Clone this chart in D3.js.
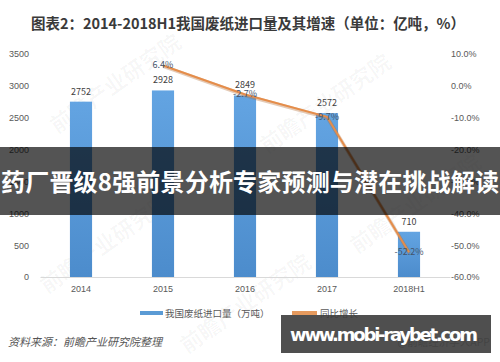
<!DOCTYPE html>
<html>
<head>
<meta charset="utf-8">
<script src="https://cdn.jsdelivr.net/npm/d3@7"></script>
<style>
  body { margin: 0; background: #fff; }
  svg { display: block; font-family: "Noto Sans CJK SC", "Noto Sans", sans-serif; }
</style>
</head>
<body>
<svg id="chart" width="500" height="362"></svg>
<script>
// data
const years = ['2014', '2015', '2016', '2017', '2018H1'];
const imports = [2752, 2928, 2849, 2572, 710];
const growthYears = ['2015', '2016', '2017', '2018H1'];
const growth = [6.4, -2.7, -9.7, -52.2];
const leftTicks = [0, 500, 1000, 1500, 2000, 2500, 3000, 3500];
const rightTicks = [10, 0, -10, -20, -30, -40, -50, -60];

const width = 500;
const height = 362;
const margin = { top: 54, right: 50, bottom: 85, left: 40 };

const svg = d3.select('#chart');

//Gradient for bars
const defs = svg.append('defs');
const grad = defs.append('linearGradient')
  .attr('id', 'barGrad')
  .attr('x1', 0).attr('y1', 0).attr('x2', 0).attr('y2', 1);
grad.append('stop').attr('offset', '0%').attr('stop-color', '#63a4e2');
grad.append('stop').attr('offset', '100%').attr('stop-color', '#4c8ccc');

//Title
svg.append('text')
  .attr('x', 248)
  .attr('y', 29)
  .attr('text-anchor', 'middle')
  .attr('font-size', 14.5)
  .attr('font-weight', 'bold')
  .attr('fill', '#3a3a3a')
  .attr('textLength', 434)
  .text('图表2：2014-2018H1我国废纸进口量及其增速（单位：亿吨，%）');

//Faint watermarks
const marks = [[120, 90], [330, 110], [110, 250], [420, 210], [250, 310]];
svg.append('g')
  .selectAll('text')
  .data(marks)
  .enter()
  .append('text')
  .attr('transform', d => `translate(${d[0]},${d[1]}) rotate(-35)`)
  .attr('text-anchor', 'middle')
  .attr('font-size', 22)
  .attr('font-weight', 'bold')
  .attr('fill', '#000')
  .attr('fill-opacity', 0.035)
  .text('前瞻产业研究院');

//Scales
const x = d3.scaleBand()
  .domain(years)
  .range([margin.left, width - margin.right])
  .paddingInner(0.73)
  .paddingOuter(0.365);

const y = d3.scaleLinear()
  .domain([0, 3500])
  .range([277, 54]);

const y2 = d3.scaleLinear()
  .domain([-60, 10])
  .range([277, 54]);

//Left axis
const leftAxis = svg.append('g')
  .attr('transform', `translate(${margin.left - 9},0)`)
  .call(d3.axisLeft(y).tickValues(leftTicks).tickSize(0).tickPadding(2).tickFormat(d3.format('d')));
leftAxis.select('.domain').remove();
leftAxis.selectAll('text')
  .attr('font-size', 9)
  .attr('fill', '#595959');

//Right axis
const rightAxis = svg.append('g')
  .attr('transform', `translate(${width - margin.right},0)`)
  .call(d3.axisRight(y2)
    .tickValues(rightTicks)
    .tickSize(0)
    .tickPadding(1)
    .tickFormat(d => d.toFixed(1) + '%'));
rightAxis.select('.domain').remove();
rightAxis.selectAll('text')
  .attr('font-size', 9)
  .attr('fill', '#595959');

//Bottom axis
const bottomAxis = svg.append('g')
  .attr('transform', `translate(0,${y(0)})`)
  .call(d3.axisBottom(x).tickSize(0).tickPadding(9));
bottomAxis.select('.domain').attr('stroke', '#d9d9d9');
bottomAxis.selectAll('text')
  .attr('font-size', 9)
  .attr('fill', '#595959');

//Bars
svg.append('g')
  .selectAll('rect')
  .data(years)
  .enter()
  .append('rect')
  .attr('x', d => x(d))
  .attr('width', x.bandwidth())
  .attr('y', (d, i) => y(imports[i]))
  .attr('height', (d, i) => y(0) - y(imports[i]))
  .attr('fill', 'url(#barGrad)');

svg.append('g')
  .selectAll('text')
  .data(years)
  .enter()
  .append('text')
  .attr('x', d => x(d) + x.bandwidth() / 2)
  .attr('y', (d, i) => y(imports[i]) - 7)
  .attr('text-anchor', 'middle')
  .attr('font-size', 9)
  .attr('fill', '#404040')
  .text((d, i) => imports[i]);

//Growth line
const cx = d => x(d) + x.bandwidth() / 2;
const line = d3.line()
  .x(d => cx(d))
  .y((d, i) => y2(growth[i]));

svg.append('path')
  .datum(growthYears)
  .attr('d', line)
  .attr('fill', 'none')
  .attr('stroke', '#b36a30')
  .attr('stroke-opacity', 0.35)
  .attr('stroke-width', 3.5)
  .attr('transform', 'translate(0.5,1)');

svg.append('path')
  .datum(growthYears)
  .attr('d', line)
  .attr('fill', 'none')
  .attr('stroke', '#e58d4a')
  .attr('stroke-width', 2);

svg.append('g')
  .selectAll('text')
  .data(growthYears)
  .enter()
  .append('text')
  .attr('x', d => cx(d))
  .attr('y', (d, i) => y2(growth[i]) + 3)
  .attr('text-anchor', 'middle')
  .attr('font-size', 9)
  .attr('fill', '#44546a')
  .text((d, i) => growth[i].toFixed(1) + '%');

//Legend
const legend = svg.append('g').attr('transform', 'translate(0,313)');
legend.append('rect')
  .attr('x', 140).attr('y', -2).attr('width', 23).attr('height', 4)
  .attr('fill', '#5b9bd5');
legend.append('text')
  .attr('x', 165).attr('y', 3.5)
  .attr('font-size', 9.5)
  .attr('fill', '#595959')
  .text('我国废纸进口量（万吨）');
legend.append('rect')
  .attr('x', 292).attr('y', -2).attr('width', 25).attr('height', 4)
  .attr('fill', '#e59a5e');
legend.append('text')
  .attr('x', 320).attr('y', 3.5)
  .attr('font-size', 9.5)
  .attr('fill', '#595959')
  .text('同比增长');

//Source
svg.append('text')
  .attr('x', 8)
  .attr('y', 346)
  .attr('font-size', 11)
  .attr('font-style', 'italic')
  .attr('fill', '#555')
  .text('资料来源：前瞻产业研究院整理');

svg.append('text')
  .attr('x', 490)
  .attr('y', 346)
  .attr('text-anchor', 'end')
  .attr('font-size', 10.5)
  .attr('fill', '#888')
  .text('@前瞻经济学人APP');

//Overlay banners
svg.append('rect')
  .attr('x', 0).attr('y', 147).attr('width', width).attr('height', 68)
  .attr('fill', '#000').attr('fill-opacity', 0.67);
svg.append('text')
  .attr('x', width / 2)
  .attr('y', 191)
  .attr('text-anchor', 'middle')
  .attr('font-size', 24)
  .attr('font-weight', 'bold')
  .attr('fill', '#fff')
  .attr('textLength', 498)
  .text('药厂晋级8强前景分析专家预测与潜在挑战解读');

svg.append('rect')
  .attr('x', 281).attr('y', 315).attr('width', 210).attr('height', 38)
  .attr('fill', '#3c3c3c').attr('fill-opacity', 0.9);
svg.append('text')
  .attr('x', 384)
  .attr('y', 341)
  .attr('text-anchor', 'middle')
  .attr('font-size', 18)
  .attr('font-weight', 'bold')
  .attr('fill', '#fff')
  .attr('textLength', 188)
  .attr('font-family', '"DejaVu Sans", sans-serif')
  .text('www.mobi-raybet.com');
</script>
</body>
</html>
